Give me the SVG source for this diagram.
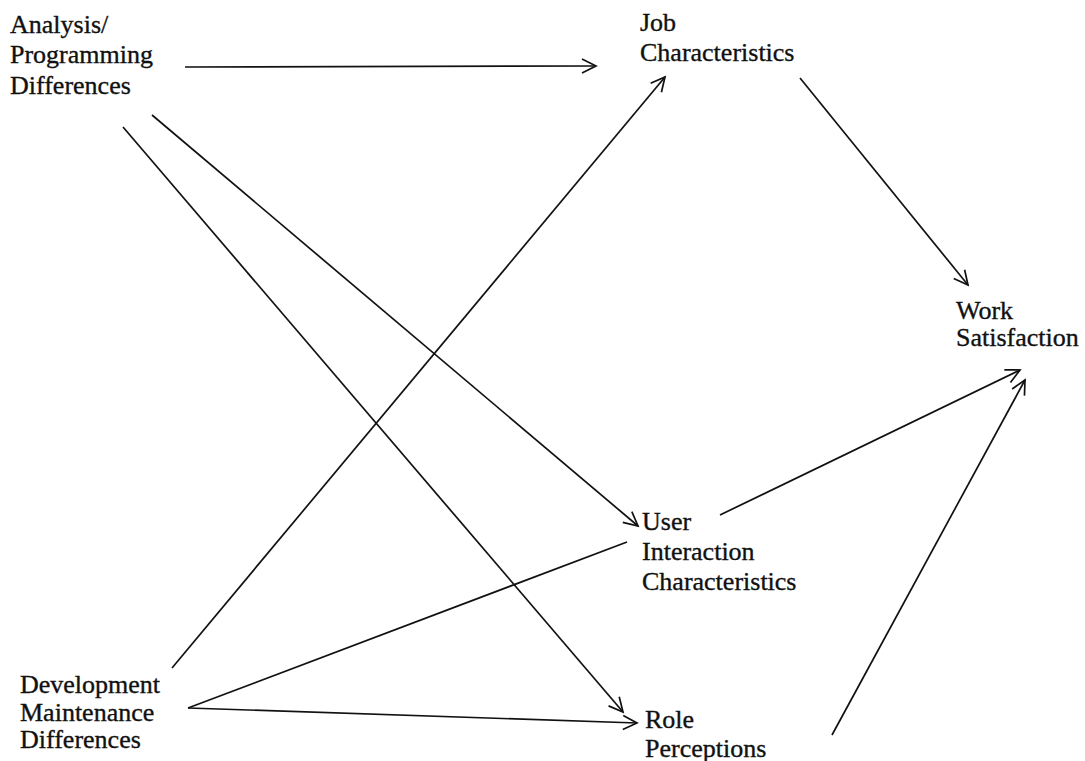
<svg xmlns="http://www.w3.org/2000/svg" width="1085" height="761" viewBox="0 0 1085 761">
<style>
text { font-family: "Liberation Serif", "Times New Roman", serif; font-size: 26px; fill: #111; stroke: #111; stroke-width: 0.35; }
.c { stroke: #111; stroke-width: 1.7; fill: none; }
.a { marker-end: url(#arr); }
</style>
<defs>
<marker id="arr" markerUnits="userSpaceOnUse" markerWidth="20" markerHeight="20" viewBox="0 0 20 20" refX="16" refY="10" orient="auto">
<path d="M2,3 L16,10 L2,17" fill="none" stroke="#111" stroke-width="1.7"/>
</marker>
</defs>
<rect width="1085" height="761" fill="#fff"/>
<g id="connectors">
<line class="c a" x1="185" y1="67" x2="596" y2="66"/>
<line class="c a" x1="152" y1="115" x2="638" y2="526"/>
<line class="c a" x1="123" y1="127" x2="623" y2="712"/>
<line class="c a" x1="172" y1="668" x2="665" y2="77"/>
<line class="c" x1="188" y1="708" x2="627" y2="542"/>
<line class="c a" x1="188" y1="708" x2="637" y2="723"/>
<line class="c a" x1="800" y1="78" x2="968" y2="285"/>
<line class="c a" x1="720" y1="515" x2="1020" y2="370"/>
<line class="c a" x1="832" y1="735" x2="1025" y2="380"/>
</g>
<g id="analysis"><text x="10" y="33">Analysis/</text><text x="10" y="63">Programming</text><text x="10" y="94">Differences</text></g>
<g id="job"><text x="640" y="31">Job</text><text x="640" y="61">Characteristics</text></g>
<g id="work"><text x="956" y="319">Work</text><text x="956" y="346">Satisfaction</text></g>
<g id="user"><text x="642" y="530">User</text><text x="642" y="560">Interaction</text><text x="642" y="590">Characteristics</text></g>
<g id="development"><text x="20" y="693">Development</text><text x="20" y="721">Maintenance</text><text x="20" y="748">Differences</text></g>
<g id="role"><text x="645" y="728">Role</text><text x="645" y="757">Perceptions</text></g>
</svg>
